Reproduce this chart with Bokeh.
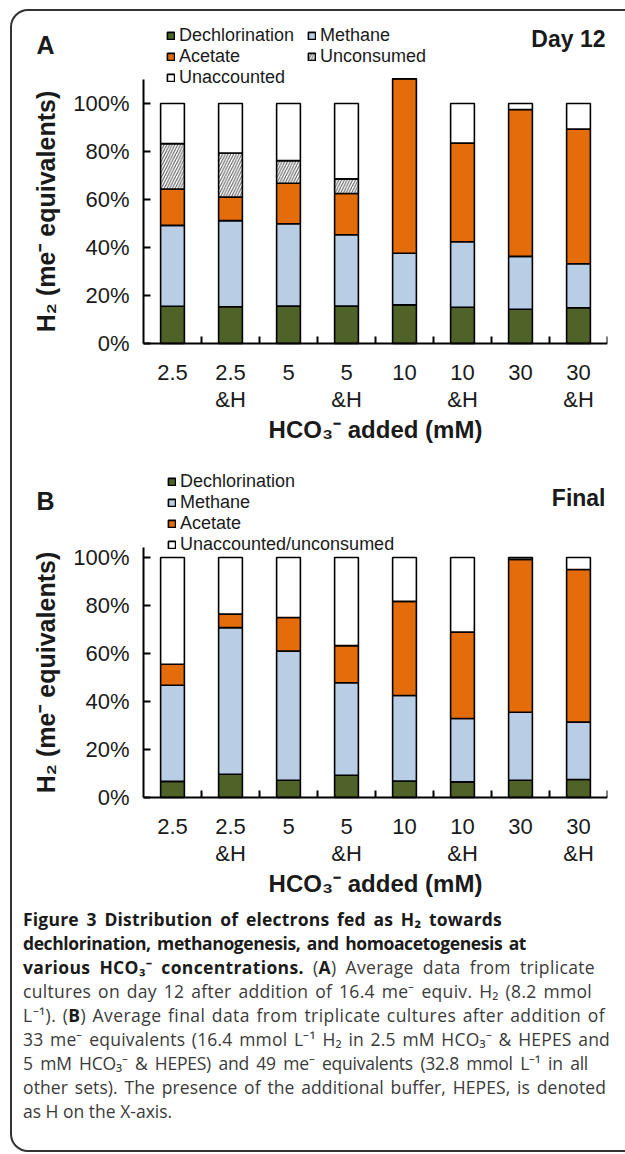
from bokeh.plotting import figure
from bokeh.models import (Range1d, FixedTicker, Legend, LegendItem, Label, Div,
                          InlineStyleSheet, ColumnDataSource, PrintfTickFormatter)
from bokeh.layouts import column
from bokeh.embed import file_html
from bokeh.resources import INLINE

# ---------------- data ----------------
categories = ["2.5", "2.5\n&H", "5", "5\n&H", "10", "10\n&H", "30", "30\n&H"]

# Panel A: Day 12 (% of H2 electron equivalents, segment sizes)
a_dechlorination = [15.5, 15.3, 15.6, 15.6, 16.1, 15.1, 14.3, 14.9]
a_methane = [33.7, 35.9, 34.3, 29.7, 21.5, 27.3, 22.0, 18.3]
a_acetate = [15.2, 9.8, 16.9, 17.2, 72.7, 41.1, 61.2, 56.2]
a_unconsumed = [18.9, 18.4, 9.4, 6.1, 0.0, 0.0, 0.0, 0.0]
a_unaccounted = [16.7, 20.6, 23.8, 31.4, 0.0, 16.5, 2.5, 10.6]

# Panel B: Final
b_dechlorination = [6.7, 9.7, 7.2, 9.3, 6.9, 6.5, 7.2, 7.5]
b_methane = [40.1, 61.1, 53.8, 38.5, 35.6, 26.4, 28.3, 23.9]
b_acetate = [8.7, 5.6, 14.0, 15.5, 39.2, 36.0, 63.7, 63.6]
b_unaccounted = [44.5, 23.6, 25.0, 36.7, 18.3, 31.1, 0.8, 5.0]

y_ticks = [0, 20, 40, 60, 80, 100]

GREEN = "#4F6228"
BLUE = "#B9CDE5"
ORANGE = "#E46C0A"
FONT = "Liberation Sans"
TXT = "#1a1a1a"

PX_PER_CAT = 58.0
PX_PER_PCT = 2.4
FRAME_LEFT = 20
AXIS_X = 143


def make_panel(series, labels, colors, hatches, axis_top, letter, tag,
               legend_cols, legend_locs, spacing, height, zero_y, letter_y, tag_y):
    n = len(categories)
    xs = [i + 0.5 for i in range(n)]
    data = {"x": xs}
    keys = []
    for i, s in enumerate(series):
        k = "s%d" % i
        data[k] = s
        keys.append(k)
    src = ColumnDataSource(data)

    width = 625
    frame_right = AXIS_X + n * PX_PER_CAT
    x_start = -(AXIS_X - FRAME_LEFT) / PX_PER_CAT
    y_start = -(height - zero_y) / PX_PER_PCT
    y_end = zero_y / PX_PER_PCT
    p = figure(width=width, height=height, x_range=Range1d(x_start, n),
               y_range=Range1d(y_start, y_end), output_backend="svg",
               toolbar_location=None, min_border_left=FRAME_LEFT,
               min_border_right=int(width - frame_right), min_border_top=0,
               min_border_bottom=0)
    p.outline_line_color = None
    p.grid.visible = False
    p.background_fill_color = "white"
    p.border_fill_color = "white"

    rs = p.vbar_stack(keys, x="x", width=0.41, source=src,
                      fill_color=colors, line_color="black", line_width=1.6,
                      hatch_pattern=hatches, hatch_color="#555555",
                      hatch_scale=5.5, hatch_weight=1.0)

    # y axis (fixed at the first category edge)
    ya = p.yaxis[0]
    ya.fixed_location = 0
    ya.ticker = FixedTicker(ticks=y_ticks, minor_ticks=[])
    ya.formatter = PrintfTickFormatter(format="%d%%")
    ya.bounds = (0, axis_top)
    ya.axis_line_width = 2
    ya.axis_line_color = "black"
    ya.major_tick_in = 7
    ya.major_tick_out = 0
    ya.major_tick_line_width = 2
    ya.minor_tick_line_color = None
    ya.major_label_standoff = 14
    ya.major_label_text_font = FONT
    ya.major_label_text_font_size = "22px"
    ya.major_label_text_color = TXT
    ya.axis_label = "H\u2082 (me\u207b equivalents)"
    ya.axis_label_text_font = FONT
    ya.axis_label_text_font_style = "bold"
    ya.axis_label_text_font_size = "25px"
    ya.axis_label_text_color = TXT
    ya.axis_label_standoff = 10

    # x axis (fixed at 0 %)
    xa = p.xaxis[0]
    xa.fixed_location = 0
    xa.ticker = FixedTicker(ticks=xs, minor_ticks=list(range(1, n + 1)))
    xa.major_label_overrides = {x: c for x, c in zip(xs, categories)}
    xa.bounds = (0, n)
    xa.axis_line_width = 2
    xa.axis_line_color = "black"
    xa.major_tick_line_color = None
    xa.major_tick_in = 0
    xa.major_tick_out = 0
    xa.minor_tick_in = 7
    xa.minor_tick_out = 0
    xa.minor_tick_line_width = 2
    xa.minor_tick_line_color = "black"
    xa.major_label_standoff = 16
    xa.major_label_text_font = FONT
    xa.major_label_text_font_size = "22px"
    xa.major_label_text_color = TXT
    xa.major_label_text_line_height = 1.1
    xa.axis_label = "HCO\u2083\u207b added (mM)"
    xa.axis_label_text_font = FONT
    xa.axis_label_text_font_style = "bold"
    xa.axis_label_text_font_size = "24px"
    xa.axis_label_text_color = TXT
    xa.axis_label_standoff = 1

    # legends
    for idxs, loc in zip(legend_cols, legend_locs):
        items = [LegendItem(label=labels[j], renderers=[rs[j]]) for j in idxs]
        leg = Legend(items=items, location=loc, orientation="vertical",
                     glyph_width=9, glyph_height=9, label_standoff=4,
                     label_height=16, spacing=spacing, padding=0, margin=0,
                     border_line_color=None, background_fill_alpha=0,
                     label_text_font=FONT, label_text_font_size="18px",
                     label_text_color=TXT)
        p.add_layout(leg)

    bottom_gap = height - zero_y
    p.add_layout(Label(x=16, y=letter_y + bottom_gap, x_units="screen", y_units="screen",
                       text=letter, text_font=FONT, text_font_style="bold",
                       text_font_size="25px", text_color=TXT,
                       text_align="left", text_baseline="middle"))
    p.add_layout(Label(x=frame_right - FRAME_LEFT - 2, y=tag_y + bottom_gap,
                       x_units="screen", y_units="screen", text=tag, text_font=FONT,
                       text_font_style="bold", text_font_size="23px",
                       text_color=TXT, text_align="right", text_baseline="middle"))
    for leg in p.legend:
        x0, y0 = leg.location
        leg.location = (x0, y0 + bottom_gap)
    return p


pA = make_panel(
    [a_dechlorination, a_methane, a_acetate, a_unconsumed, a_unaccounted],
    ["Dechlorination", "Methane", "Acetate", "Unconsumed", "Unaccounted"],
    [GREEN, BLUE, ORANGE, "white", "white"],
    [" ", " ", " ", "/", " "],
    110, "A", "Day 12",
    [[0, 2, 4], [1, 3]], [(146, 255), (287, 276)], 0, 462, 343, 299, 305)

pB = make_panel(
    [b_dechlorination, b_methane, b_acetate, b_unaccounted],
    ["Dechlorination", "Methane", "Acetate", "Unaccounted/unconsumed"],
    [GREEN, BLUE, ORANGE, "white"],
    [" ", " ", " ", " "],
    104, "B", "Final",
    [[0, 1, 2, 3]], [(147, 242)], 0, 440, 335, 297, 300)

# caption lines: (html, right edge px, letter spacing px)
caption_lines = [
    ("<b>Figure 3 Distribution of electrons fed as H\u2082 towards</b>", 497, 0.2),
    ("<b>dechlorination, methanogenesis, and homoacetogenesis at</b>", 521, -0.4),
    ("<b>various HCO\u2083\u207b concentrations.</b> (<b>A</b>) Average data from triplicate", 590, 0.35),
    ("cultures on day 12 after addition of 16.4 me\u207b equiv. H\u2082 (8.2 mmol", 587, 0.3),
    ("L\u207b\u00b9). (<b>B</b>) Average final data from triplicate cultures after addition of", 600, 0.45),
    ("33 me\u207b equivalents (16.4 mmol L\u207b\u00b9 H\u2082 in 2.5 mM HCO\u2083\u207b &amp; HEPES and", 605, 0.2),
    ("5 mM HCO\u2083\u207b &amp; HEPES) and 49 me\u207b equivalents (32.8 mmol L\u207b\u00b9 in all", 583, -0.25),
    ("other sets). The presence of the additional buffer, HEPES, is denoted", 601, 0.1),
    ("as H on the X-axis.", None, 0.0),
]
parts = []
for txt, right, ls in caption_lines:
    if right is None:
        parts.append('<div class="l">%s</div>' % txt)
    else:
        parts.append('<div class="l j" style="width:%dpx;letter-spacing:%.2fpx">%s</div>'
                     % (right, ls, txt))
html = "".join(parts)
cap_css = InlineStyleSheet(css="""
:host, .l, b { font-family: 'Open Sans', sans-serif; }
.l { display: block; box-sizing: border-box; height: 24px; line-height: 24px;
     white-space: nowrap; overflow: visible; padding-left: 18px; font-size: 17.5px;
     color: #3a3a3a; }
.j { text-align: justify; text-align-last: justify; }
b { color: #1a1a1a; font-weight: 700; }
""")
cap = Div(text=html, width=625, height=250, stylesheets=[cap_css])

frame_css = InlineStyleSheet(css="""
:host { position: relative; overflow: hidden; }
:host::after { content: ""; position: absolute; left: 10px; top: 9px; width: 700px;
  height: 1143px; border: 2px solid #333; border-radius: 18px; box-sizing: border-box;
  pointer-events: none; }
""")
layout = column(pA, pB, cap, stylesheets=[frame_css])

open("out.html", "w").write(file_html(layout, INLINE))
